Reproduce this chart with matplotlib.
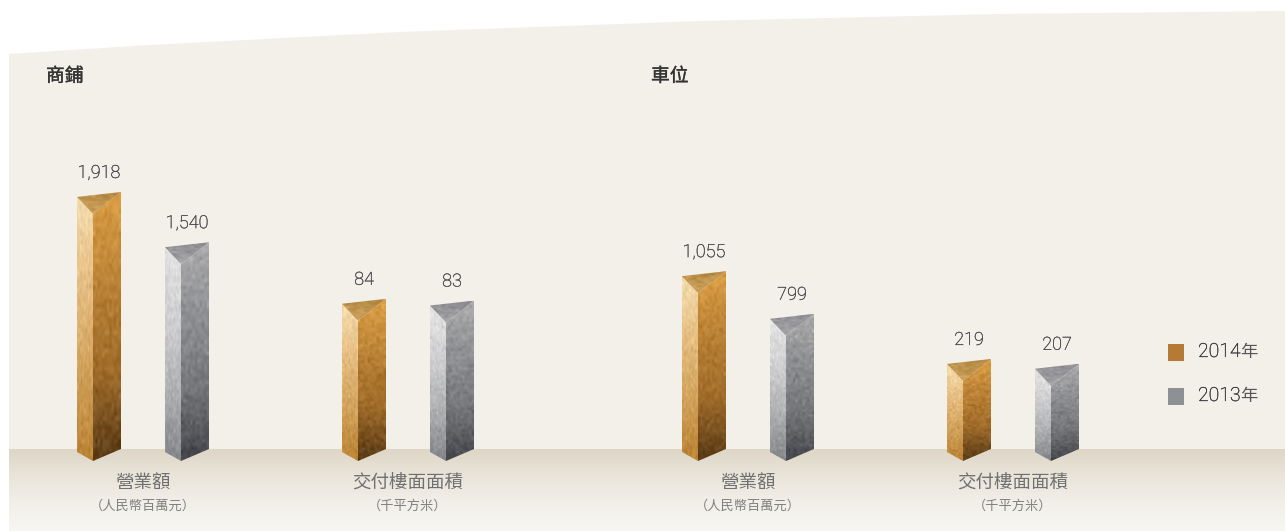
import numpy as np
import matplotlib
matplotlib.use("Agg")
import matplotlib.pyplot as plt
import matplotlib.patheffects as pe
from matplotlib.colors import LinearSegmentedColormap
from matplotlib.patches import Polygon

W, H = 1285, 531

# Chart values
sections = ["商鋪", "車位"]
metrics = ["營業額", "交付樓面面積"]
metric_units = ["\uff08人民幣百萬元\uff09", "\uff08千平方米\uff09"]
years = ["2014年", "2013年"]
shop_revenue = [1918, 1540]
shop_area = [84, 83]
parking_revenue = [1055, 799]
parking_area = [219, 207]

# Each group has its own vertical scale, expressed as the value at the full axis height
group_values = [shop_revenue, shop_area, parking_revenue, parking_area]
group_axis_max = [2256.0, 170.0, 1800.0, 746.0]
group_left = [77, 342, 682, 947]

BAR_W, BAR_STEP, SPLIT = 44, 88, 16
AXIS_PX = 300           # pixels from the zero line to the axis maximum
BELOW_PX = 20           # room under the zero line for the prism feet
BASE_Y = 452            # pixel row of the left edge foot
FRONT_DROP, RIGHT_RISE = 9, 3
TOP_APEX, TOP_RISE = 17, 5

GOLD = dict(
    left=["#F5DDB0", "#E6BE82", "#D2A35C", "#BA8233"],
    right=["#DDA046", "#BA8236", "#A06C2A", "#5A3B16"],
    top=["#B48A45", "#CDA25C"],
)
SILVER = dict(
    left=["#E4E4E4", "#CFCFD1", "#B0B1B3", "#85878B"],
    right=["#ACACAE", "#8E8F92", "#75777A", "#44464B"],
    top=["#8E8E92", "#A5A5A8"],
)
styles = [GOLD, SILVER]

noise_source = np.random.default_rng(7)


def mottled(colors, rows=60, cols=12, strength=0.03):
    """Vertical gradient image with a soft metallic mottling."""
    cmap = LinearSegmentedColormap.from_list("face", colors)
    img = cmap(np.linspace(0, 1, rows))[:, :3][:, None, :].repeat(cols, axis=1)
    grain = noise_source.normal(0, strength, (rows, cols))
    return np.clip(img + grain[:, :, None], 0, 1)


fig = plt.figure(figsize=(W / 100, H / 100), dpi=100, facecolor="white")
plt.rcParams["font.family"] = ["Noto Sans CJK TC", "DejaVu Sans"]

# Backdrop drawn in pixel coordinates
bg = fig.add_axes([0, 0, 1, 1], zorder=0)
curve_x = [9, 150, 400, 700, 1000, 1285]
curve_y = [54, 45, 32, 21, 14, 11]
bg.add_patch(Polygon(list(zip(curve_x, curve_y)) + [(W, H), (9, H)],
                     closed=True, fc="#F3F0EA", ec="none"))
floor = LinearSegmentedColormap.from_list(
    "floor", ["#DED6C6", "#EAE5DB", "#F2EFE9", "#F7F6F2"])
bg.imshow(np.linspace(0, 1, 82)[:, None], cmap=floor, extent=(9, W, H, 449),
          aspect="auto", zorder=1)
bg.set_xlim(0, W)
bg.set_ylim(H, 0)
bg.axis("off")

for name, x in zip(sections, [46, 651]):
    bg.text(x, 76, name, fontsize=13.5, color="#333333", va="center", ha="left",
            path_effects=[pe.withStroke(linewidth=0.25, foreground="#333333")])


def face(ax, pts, image):
    """Fill a polygon with a textured image clipped to it."""
    poly = Polygon(pts, closed=True, transform=ax.transData, fc="none", ec="none")
    ax.add_patch(poly)
    xs, ys = zip(*pts)
    im = ax.imshow(image, extent=(min(xs), max(xs), min(ys), max(ys)),
                   aspect="auto", origin="upper", zorder=2, interpolation="bilinear")
    im.set_clip_path(poly)


# One axes per group, sharing the foot line, each with its own value scale
for left, values, vmax, metric, unit in zip(
        group_left, group_values, group_axis_max, metrics * 2, metric_units * 2):
    ax = fig.add_axes([left / W, 1 - (BASE_Y + BELOW_PX) / H,
                       (BAR_STEP + BAR_W) / W, (AXIS_PX + BELOW_PX) / H], zorder=2)
    u = vmax / AXIS_PX  # value units per pixel
    ax.patch.set_alpha(0)
    ax.axis("off")

    for i, (value, st) in enumerate(zip(values, styles)):
        x0 = i * BAR_STEP
        xm, x1 = x0 + SPLIT, x0 + BAR_W
        foot_m = -FRONT_DROP * u
        foot_r = RIGHT_RISE * u
        top_l = value
        top_r = value + TOP_RISE * u
        apex = value - TOP_APEX * u
        face(ax, [(x0, 0), (xm, foot_m), (xm, apex), (x0, top_l)], mottled(st["left"]))
        face(ax, [(xm, foot_m), (x1, foot_r), (x1, top_r), (xm, apex)], mottled(st["right"]))
        face(ax, [(x0, top_l), (x1, top_r), (xm, apex)], mottled(st["top"], rows=12))
        ax.text(x0 + BAR_W / 2, value + 24 * u, f"{value:,}", ha="center", va="center",
                fontsize=13, color="#444444", family=["Roboto"], fontweight="light",
                path_effects=[pe.withStroke(linewidth=0.2, foreground="#444444")])
    ax.set_xlim(0, BAR_STEP + BAR_W)
    ax.set_ylim(-BELOW_PX * u, vmax)

    cx = left + (BAR_STEP + BAR_W) / 2
    bg.text(cx, 484, metric, ha="center", va="center", fontsize=13.3, color="#707070",
            zorder=3)
    bg.text(cx, 506, unit, ha="center", va="center", fontsize=9.5, color="#808080",
            zorder=3)

# Legend
legend_rows = [352, 396]
legend_faces = ["#B57A33", "#8D9095"]
for label, y, col in zip(years, legend_rows, legend_faces):
    bg.add_patch(plt.Rectangle((1168, y - 8.5), 16, 17, fc=col, ec="none", zorder=3))
    bg.text(1198, y, label[:4], ha="left", va="center", fontsize=14, color="#333333",
            family=["Roboto"], fontweight="light", zorder=3,
            path_effects=[pe.withStroke(linewidth=0.2, foreground="#333333")])
    bg.text(1240.5, y, label[4:], ha="left", va="center", fontsize=12.5, color="#555555",
            zorder=3)

fig.savefig("out.png", dpi=100, facecolor="white")
